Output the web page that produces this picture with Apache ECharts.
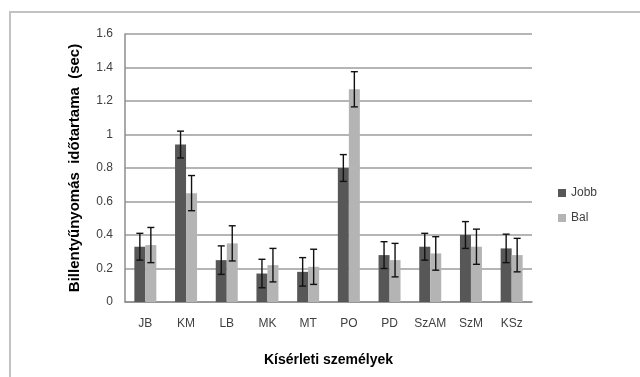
<!DOCTYPE html>
<html>
<head>
<meta charset="utf-8">
<script src="https://cdn.jsdelivr.net/npm/echarts@6/dist/echarts.min.js"></script>
<style>
  html, body { margin: 0; padding: 0; background: #fff; }
  #chart { width: 640px; height: 377px; }
</style>
</head>
<body>
<div id="chart"></div>
<script>
// Subjects and mean key-press durations (sec) with their error ranges
const categories = ['JB', 'KM', 'LB', 'MK', 'MT', 'PO', 'PD', 'SzAM', 'SzM', 'KSz'];
const jobbValues = [0.33, 0.94, 0.25, 0.17, 0.18, 0.80, 0.28, 0.33, 0.40, 0.32];
const jobbErrors = [0.08, 0.08, 0.085, 0.085, 0.085, 0.08, 0.08, 0.08, 0.08, 0.085];
const balValues  = [0.34, 0.65, 0.35, 0.22, 0.21, 1.27, 0.25, 0.29, 0.33, 0.28];
const balErrors  = [0.105, 0.105, 0.105, 0.10, 0.105, 0.105, 0.10, 0.10, 0.105, 0.10];
const yTicks = [0, 0.2, 0.4, 0.6, 0.8, 1, 1.2, 1.4, 1.6];

const BAR_W = 11;
const font = '"Liberation Sans", Arial, sans-serif';

function errorData(values, errors) {
  return values.map((v, i) => [i, v - errors[i], v + errors[i]]);
}

function errorRenderer(offset) {
  return function (params, api) {
    const i = api.value(0);
    const lo = api.coord([i, api.value(1)]);
    const hi = api.coord([i, api.value(2)]);
    const x = lo[0] + offset;
    const cap = 3.5;
    const style = { stroke: '#111', lineWidth: 1.4 };
    return {
      type: 'group',
      children: [
        { type: 'line', shape: { x1: x, y1: hi[1], x2: x, y2: lo[1] }, style },
        { type: 'line', shape: { x1: x - cap, y1: hi[1], x2: x + cap, y2: hi[1] }, style },
        { type: 'line', shape: { x1: x - cap, y1: lo[1], x2: x + cap, y2: lo[1] }, style }
      ]
    };
  };
}

const chart = echarts.init(document.getElementById('chart'), null, { renderer: 'canvas' });
chart.setOption({
  animation: false,
  backgroundColor: '#fff',
  graphic: [{
    type: 'rect',
    shape: { x: 10, y: 12, width: 700, height: 450 },
    style: { fill: 'none', stroke: '#c2c2c2', lineWidth: 2 },
    silent: true
  }],
  grid: { left: 125, right: 108, top: 34, bottom: 75 },
  legend: {
    orient: 'vertical',
    left: 553,
    top: 182,
    itemWidth: 8,
    itemHeight: 8,
    itemGap: 13,
    icon: 'rect',
    textStyle: { fontFamily: font, fontSize: 12, color: '#404040' },
    data: ['Jobb', 'Bal']
  },
  xAxis: {
    type: 'category',
    data: categories,
    name: 'Kísérleti személyek',
    nameLocation: 'middle',
    nameGap: 51,
    nameTextStyle: { fontFamily: font, fontSize: 14, fontWeight: 'bold', color: '#000' },
    axisLine: { lineStyle: { color: '#8c8c8c', width: 1.5 } },
    axisTick: { show: false },
    axisLabel: { interval: 0, fontFamily: font, fontSize: 12, color: '#404040', margin: 16 }
  },
  yAxis: {
    type: 'value',
    min: 0,
    max: 1.6,
    interval: 0.2,
    name: 'Billentyűnyomás  időtartama  (sec)',
    nameLocation: 'middle',
    nameGap: 43,
    nameTextStyle: { fontFamily: font, fontSize: 15, fontWeight: 'bold', color: '#000' },
    axisLine: { show: true, lineStyle: { color: '#8c8c8c', width: 1.5 } },
    axisTick: { show: false },
    axisLabel: {
      fontFamily: font, fontSize: 12, color: '#404040', margin: 12,
      formatter: v => yTicks.includes(+v.toFixed(1)) ? String(+v.toFixed(1)) : ''
    },
    splitLine: { lineStyle: { color: '#9c9c9c', width: 1.5 } }
  },
  series: [
    {
      name: 'Jobb', type: 'bar', data: jobbValues,
      barWidth: BAR_W, barGap: '0%',
      itemStyle: { color: '#575757' }
    },
    {
      name: 'Bal', type: 'bar', data: balValues,
      barWidth: BAR_W, barGap: '0%',
      itemStyle: { color: '#b4b4b4' }
    },
    {
      type: 'custom', name: 'JobbErr', data: errorData(jobbValues, jobbErrors),
      renderItem: errorRenderer(-BAR_W / 2), z: 5,
      encode: { x: 0, y: [1, 2] }
    },
    {
      type: 'custom', name: 'BalErr', data: errorData(balValues, balErrors),
      renderItem: errorRenderer(BAR_W / 2), z: 5,
      encode: { x: 0, y: [1, 2] }
    }
  ]
});
</script>
</body>
</html>
